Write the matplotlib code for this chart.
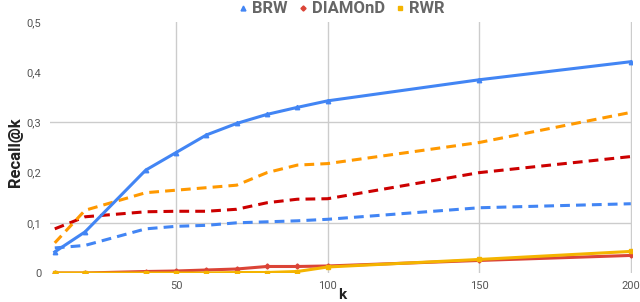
import numpy as np
import matplotlib.pyplot as plt
from matplotlib.lines import Line2D

plt.rcParams['font.family'] = ['Roboto', 'DejaVu Sans']

# data
k = [10, 20, 40, 50, 60, 70, 80, 90, 100, 150, 200]
brw = [0.042, 0.082, 0.205, 0.240, 0.275, 0.298, 0.316, 0.330, 0.343, 0.385, 0.421]
diamond = [0.0, 0.0, 0.003, 0.004, 0.006, 0.008, 0.013, 0.013, 0.014, 0.025, 0.035]
rwr = [0.0, 0.0, 0.0, 0.0, 0.0, 0.001, 0.001, 0.003, 0.012, 0.027, 0.043]
brw_dash = [0.050, 0.055, 0.088, 0.093, 0.095, 0.100, 0.102, 0.104, 0.107, 0.130, 0.138]
diamond_dash = [0.088, 0.112, 0.122, 0.123, 0.123, 0.127, 0.140, 0.147, 0.148, 0.200, 0.232]
rwr_dash = [0.060, 0.125, 0.160, 0.165, 0.170, 0.175, 0.200, 0.215, 0.218, 0.260, 0.320]
xticks = [50, 100, 150, 200]
yticks = [0, 0.1, 0.2, 0.3, 0.4, 0.5]
ylabels = ['0', '0,1', '0,2', '0,3', '0,4', '0,5']

BLUE = '#4285F4'
RED = '#DB4437'
ORANGE = '#F4B400'

fig = plt.figure(figsize=(6.4, 3.02), dpi=100)
ax = fig.add_axes([0.078, 0.096, 0.91, 0.831])

# grid: vertical at ticks, horizontal only at 0.1 and 0.3
for x in xticks:
    ax.axvline(x, color='#cccccc', lw=1, zorder=0)
for y in [0.1, 0.3]:
    ax.axhline(y, color='#cccccc', lw=1, zorder=0)

dash = (0, (3.2, 2.0))
ax.plot(k, brw_dash, color=BLUE, lw=2.2, ls=dash)
ax.plot(k, diamond_dash, color='#CC0000', lw=2.2, ls=dash)
ax.plot(k, rwr_dash, color='#FF9900', lw=2.2, ls=dash)

ax.plot(k, brw, color=BLUE, lw=2.2, marker='^', ms=3.2)
ax.plot(k, diamond, color=RED, lw=2.2, marker='D', ms=2.6)
ax.plot(k, rwr, color=ORANGE, lw=2.2, marker='s', ms=2.8)

ax.set_xlim(8.4, 200.5)
ax.set_ylim(0, 0.5)
ax.set_xticks(xticks)
ax.set_yticks(yticks)
ax.set_yticklabels(ylabels)
ax.tick_params(length=0, labelsize=8, colors='#555555', pad=6)
for s in ax.spines.values():
    s.set_visible(False)

fig.text(342 / 640, 1 - 295 / 302, 'k', fontsize=11, fontweight='bold',
         color='#222222', ha='center', va='center')
fig.text(15 / 640, 1 - 152 / 302, 'Recall@k', fontsize=12, fontweight='bold',
         color='#222222', ha='center', va='center', rotation=90)

handles = [
    Line2D([], [], color=BLUE, marker='^', ls='', ms=3.5),
    Line2D([], [], color=RED, marker='D', ls='', ms=2.6),
    Line2D([], [], color=ORANGE, marker='s', ls='', ms=3),
]
fig.legend(handles, ['BRW', 'DIAMOnD', 'RWR'], loc='upper center', ncol=3,
           bbox_to_anchor=(0.535, 1.045), frameon=False, handlelength=0.4,
           handletextpad=0.35, columnspacing=0.7,
           prop={'size': 12, 'weight': 'bold'}, labelcolor='#666666')

fig.savefig('out.png', dpi=100)
